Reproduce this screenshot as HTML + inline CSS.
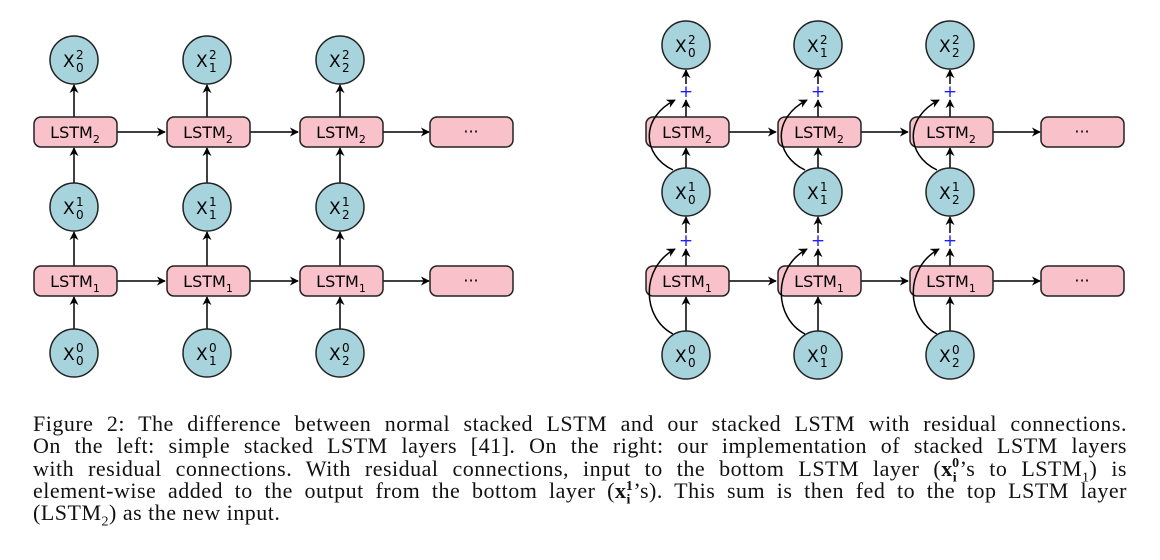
<!DOCTYPE html>
<html><head><meta charset="utf-8"><style>
html,body{margin:0;padding:0;background:#fff;width:1160px;height:560px;overflow:hidden;position:relative}
svg{position:absolute;left:0;top:0}
.cap{position:absolute;left:33px;width:1094px;font-family:"Liberation Serif",serif;font-size:22px;letter-spacing:0.5px;color:#111}
.cap div{height:22.3px;line-height:22.3px;text-align:justify;text-align-last:justify;white-space:nowrap}
sub,sup{font-size:14px;line-height:0}
</style></head><body>
<svg width="1160" height="400" viewBox="0 0 1160 400" font-family="DejaVu Sans, sans-serif">
<defs>
<marker id="a" viewBox="0 0 10 10" refX="9" refY="5" markerWidth="9" markerHeight="9" markerUnits="userSpaceOnUse" orient="auto"><path d="M0,0 L10,5 L0,10 L3,5 z" fill="#000"/></marker>
<g id="box"><rect x="-41" y="-15" width="83" height="30" rx="7" fill="#f9c1ca" stroke="#222" stroke-width="1.5"/></g>
<g id="circ"><circle r="24" fill="#a7d3dd" stroke="#222" stroke-width="1.5"/></g>
</defs>
<g stroke="#000" stroke-width="1.5" fill="none" marker-end="url(#a)">
<line x1="117" y1="132" x2="165" y2="132"/><line x1="250" y1="132" x2="298" y2="132"/><line x1="383" y1="132" x2="429" y2="132"/>
<line x1="117" y1="281" x2="165" y2="281"/><line x1="250" y1="281" x2="298" y2="281"/><line x1="383" y1="281" x2="429" y2="281"/>
<line x1="74" y1="329" x2="74" y2="297"/><line x1="74" y1="266" x2="74" y2="232"/><line x1="74" y1="183" x2="74" y2="148"/><line x1="74" y1="117" x2="74" y2="85"/>
<line x1="207" y1="329" x2="207" y2="297"/><line x1="207" y1="266" x2="207" y2="232"/><line x1="207" y1="183" x2="207" y2="148"/><line x1="207" y1="117" x2="207" y2="85"/>
<line x1="340" y1="329" x2="340" y2="297"/><line x1="340" y1="266" x2="340" y2="232"/><line x1="340" y1="183" x2="340" y2="148"/><line x1="340" y1="117" x2="340" y2="85"/>
<line x1="729" y1="132" x2="776" y2="132"/><line x1="861" y1="132" x2="908" y2="132"/><line x1="993" y1="132" x2="1040" y2="132"/>
<line x1="729" y1="281" x2="776" y2="281"/><line x1="861" y1="281" x2="908" y2="281"/><line x1="993" y1="281" x2="1040" y2="281"/>
<g id="rv">
<line x1="686" y1="331" x2="686" y2="297"/><line x1="686" y1="266" x2="686" y2="249"/><line x1="686" y1="233" x2="686" y2="217"/>
<line x1="686" y1="168" x2="686" y2="148"/><line x1="686" y1="117" x2="686" y2="100"/><line x1="686" y1="84" x2="686" y2="70"/>
</g>
<use href="#rv" x="132"/><use href="#rv" x="264"/>
</g>
<g font-size="16" text-anchor="middle">
<g transform="translate(75,132)"><use href="#box"/><text y="6">LSTM<tspan font-size="11" dy="5">2</tspan></text></g>
<g transform="translate(208,132)"><use href="#box"/><text y="6">LSTM<tspan font-size="11" dy="5">2</tspan></text></g>
<g transform="translate(341,132)"><use href="#box"/><text y="6">LSTM<tspan font-size="11" dy="5">2</tspan></text></g>
<g transform="translate(75,281)"><use href="#box"/><text y="6">LSTM<tspan font-size="11" dy="5">1</tspan></text></g>
<g transform="translate(208,281)"><use href="#box"/><text y="6">LSTM<tspan font-size="11" dy="5">1</tspan></text></g>
<g transform="translate(341,281)"><use href="#box"/><text y="6">LSTM<tspan font-size="11" dy="5">1</tspan></text></g>
<g transform="translate(471,132)"><use href="#box"/><text y="5">···</text></g>
<g transform="translate(471,281)"><use href="#box"/><text y="5">···</text></g>
<g transform="translate(687,132)"><use href="#box"/><text y="6">LSTM<tspan font-size="11" dy="5">2</tspan></text></g>
<g transform="translate(819,132)"><use href="#box"/><text y="6">LSTM<tspan font-size="11" dy="5">2</tspan></text></g>
<g transform="translate(951,132)"><use href="#box"/><text y="6">LSTM<tspan font-size="11" dy="5">2</tspan></text></g>
<g transform="translate(687,281)"><use href="#box"/><text y="6">LSTM<tspan font-size="11" dy="5">1</tspan></text></g>
<g transform="translate(819,281)"><use href="#box"/><text y="6">LSTM<tspan font-size="11" dy="5">1</tspan></text></g>
<g transform="translate(951,281)"><use href="#box"/><text y="6">LSTM<tspan font-size="11" dy="5">1</tspan></text></g>
<g transform="translate(1082,132)"><use href="#box"/><text y="5">···</text></g>
<g transform="translate(1082,281)"><use href="#box"/><text y="5">···</text></g>
</g>
<g stroke="#000" stroke-width="1.5" fill="none" marker-end="url(#a)">
<g id="cv"><path d="M673,334 C642,318 640,268 675,249"/><path d="M673,170 C642,155 640,118 675,100"/></g>
<use href="#cv" x="132"/><use href="#cv" x="264"/>
</g>
<g fill="#2020ff" font-size="17" text-anchor="middle">
<text x="686" y="97">+</text><text x="818" y="97">+</text><text x="950" y="97">+</text>
<text x="686" y="246">+</text><text x="818" y="246">+</text><text x="950" y="246">+</text>
</g>
<g font-size="17">
<g transform="translate(74,60)"><use href="#circ"/><text x="-11" y="7">X</text><text x="2" y="-1" font-size="12">2</text><text x="2" y="12" font-size="12">0</text></g>
<g transform="translate(207,60)"><use href="#circ"/><text x="-11" y="7">X</text><text x="2" y="-1" font-size="12">2</text><text x="2" y="12" font-size="12">1</text></g>
<g transform="translate(340,60)"><use href="#circ"/><text x="-11" y="7">X</text><text x="2" y="-1" font-size="12">2</text><text x="2" y="12" font-size="12">2</text></g>
<g transform="translate(74,207)"><use href="#circ"/><text x="-11" y="7">X</text><text x="2" y="-1" font-size="12">1</text><text x="2" y="12" font-size="12">0</text></g>
<g transform="translate(207,207)"><use href="#circ"/><text x="-11" y="7">X</text><text x="2" y="-1" font-size="12">1</text><text x="2" y="12" font-size="12">1</text></g>
<g transform="translate(340,207)"><use href="#circ"/><text x="-11" y="7">X</text><text x="2" y="-1" font-size="12">1</text><text x="2" y="12" font-size="12">2</text></g>
<g transform="translate(74,353)"><use href="#circ"/><text x="-11" y="7">X</text><text x="2" y="-1" font-size="12">0</text><text x="2" y="12" font-size="12">0</text></g>
<g transform="translate(207,353)"><use href="#circ"/><text x="-11" y="7">X</text><text x="2" y="-1" font-size="12">0</text><text x="2" y="12" font-size="12">1</text></g>
<g transform="translate(340,353)"><use href="#circ"/><text x="-11" y="7">X</text><text x="2" y="-1" font-size="12">0</text><text x="2" y="12" font-size="12">2</text></g>
<g transform="translate(686,45)"><use href="#circ"/><text x="-11" y="7">X</text><text x="2" y="-1" font-size="12">2</text><text x="2" y="12" font-size="12">0</text></g>
<g transform="translate(818,45)"><use href="#circ"/><text x="-11" y="7">X</text><text x="2" y="-1" font-size="12">2</text><text x="2" y="12" font-size="12">1</text></g>
<g transform="translate(950,45)"><use href="#circ"/><text x="-11" y="7">X</text><text x="2" y="-1" font-size="12">2</text><text x="2" y="12" font-size="12">2</text></g>
<g transform="translate(686,192)"><use href="#circ"/><text x="-11" y="7">X</text><text x="2" y="-1" font-size="12">1</text><text x="2" y="12" font-size="12">0</text></g>
<g transform="translate(818,192)"><use href="#circ"/><text x="-11" y="7">X</text><text x="2" y="-1" font-size="12">1</text><text x="2" y="12" font-size="12">1</text></g>
<g transform="translate(950,192)"><use href="#circ"/><text x="-11" y="7">X</text><text x="2" y="-1" font-size="12">1</text><text x="2" y="12" font-size="12">2</text></g>
<g transform="translate(686,355)"><use href="#circ"/><text x="-11" y="7">X</text><text x="2" y="-1" font-size="12">0</text><text x="2" y="12" font-size="12">0</text></g>
<g transform="translate(818,355)"><use href="#circ"/><text x="-11" y="7">X</text><text x="2" y="-1" font-size="12">0</text><text x="2" y="12" font-size="12">1</text></g>
<g transform="translate(950,355)"><use href="#circ"/><text x="-11" y="7">X</text><text x="2" y="-1" font-size="12">0</text><text x="2" y="12" font-size="12">2</text></g>
</g>
</svg>
<div class="cap" style="top:413px">
<div>Figure 2: The difference between normal stacked LSTM and our stacked LSTM with residual connections.</div>
<div>On the left: simple stacked LSTM layers [41]. On the right: our implementation of stacked LSTM layers</div>
<div>with residual connections. With residual connections, input to the bottom LSTM layer (<b>x</b><sub><b>i</b></sub><sup style="margin-left:-5px"><b>0</b></sup>’s to LSTM<sub>1</sub>) is</div>
<div>element-wise added to the output from the bottom layer (<b>x</b><sub><b>i</b></sub><sup style="margin-left:-5px"><b>1</b></sup>’s). This sum is then fed to the top LSTM layer</div>
<div style="text-align:left;text-align-last:left">(LSTM<sub>2</sub>) as the new input.</div>
</div>
</body></html>
